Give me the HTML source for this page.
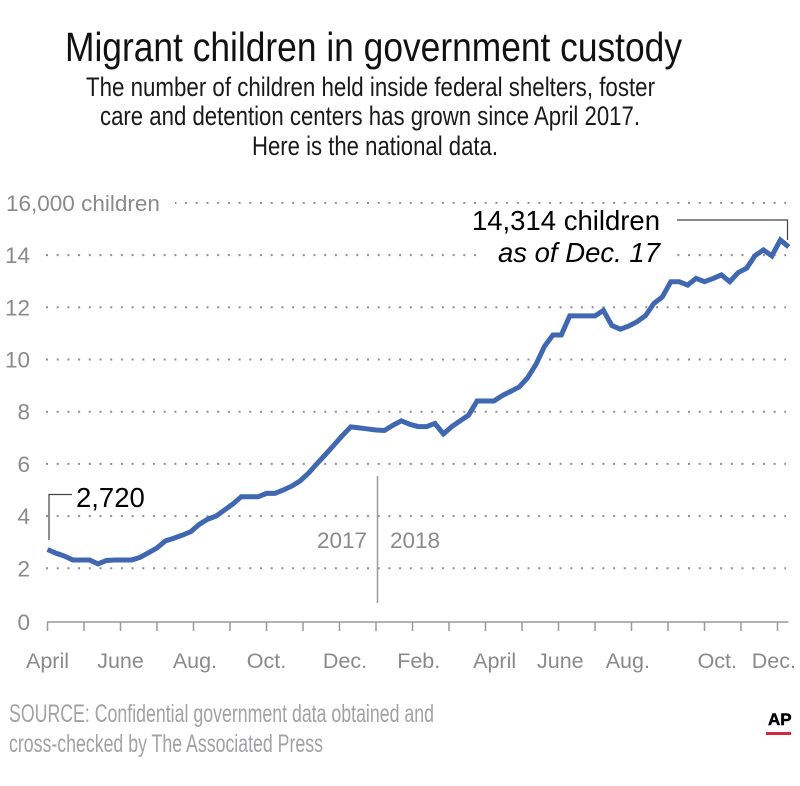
<!DOCTYPE html>
<html lang="en">
<head>
<meta charset="utf-8">
<title>Migrant children in government custody</title>
<style>
  html, body { margin: 0; padding: 0; background: #fff; }
  body { width: 800px; height: 786px; overflow: hidden; }
  svg { display: block; font-family: "Liberation Sans", Arial, sans-serif; }
</style>
</head>
<body>
<svg id="chart" width="800" height="786" viewBox="0 0 800 786" xmlns="http://www.w3.org/2000/svg">
  <rect x="0" y="0" width="800" height="786" fill="#ffffff"/>

  <text x="65" y="61" font-size="41" fill="#111" textLength="617" lengthAdjust="spacingAndGlyphs">Migrant children in government custody</text>
  <text x="86" y="96" font-size="26.5" fill="#1a1a1a" textLength="569" lengthAdjust="spacingAndGlyphs">The number of children held inside federal shelters, foster</text>
  <text x="100" y="125" font-size="26.5" fill="#1a1a1a" textLength="540" lengthAdjust="spacingAndGlyphs">care and detention centers has grown since April 2017.</text>
  <text x="252" y="155" font-size="26.5" fill="#1a1a1a" textLength="246" lengthAdjust="spacingAndGlyphs">Here is the national data.</text>

  <g id="grid"></g>
  <rect x="0" y="190" width="175" height="26" fill="#ffffff"/>
  <rect x="476" y="246" width="200" height="20" fill="#ffffff"/>
  <g id="y-axis"></g>
  <g id="x-axis"></g>

  <line x1="377.5" y1="476" x2="377.5" y2="603" stroke="#999" stroke-width="1.5"/>
  <text x="367" y="548" font-size="22.5" fill="#8a8a8c" text-anchor="end">2017</text>
  <text x="390" y="548" font-size="22.5" fill="#8a8a8c">2018</text>

  <path id="series" fill="none" stroke="#3f68b0" stroke-width="5" stroke-linejoin="miter" stroke-miterlimit="3"/>

  <path d="M49 540 V494.5 H72" fill="none" stroke="#444" stroke-width="1.2"/>
  <text x="76" y="507" font-size="27.5" fill="#000">2,720</text>
  <path d="M677 220 H787.5 V240" fill="none" stroke="#444" stroke-width="1.2"/>
  <text x="660" y="230" font-size="27.5" fill="#000" text-anchor="end">14,314 children</text>
  <text x="660" y="262" font-size="27.5" font-style="italic" fill="#000" text-anchor="end">as of Dec. 17</text>

  <text x="9" y="722" font-size="25" fill="#a2a2a4" textLength="425" lengthAdjust="spacingAndGlyphs">SOURCE: Confidential government data obtained and</text>
  <text x="9" y="752" font-size="25" fill="#a2a2a4" textLength="314" lengthAdjust="spacingAndGlyphs">cross-checked by The Associated Press</text>

  <text x="768" y="725" font-size="17" font-weight="bold" fill="#000" stroke="#000" stroke-width="0.5">AP</text>
  <rect x="766" y="732" width="25" height="3" fill="#d0283f"/>
</svg>

<script>
// Weekly count of children in custody, thousands, starting April 2017
const weeklyValues = [
  2.72, 2.58, 2.47, 2.32, 2.32, 2.32, 2.17, 2.30, 2.32, 2.32,
  2.32, 2.42, 2.60, 2.78, 3.05, 3.15, 3.27, 3.40, 3.68, 3.88,
  4.00, 4.23, 4.46, 4.74, 4.74, 4.74, 4.87, 4.87, 5.00, 5.15,
  5.35, 5.65, 6.01, 6.36, 6.72, 7.08, 7.42, 7.38, 7.34, 7.30,
  7.28, 7.48, 7.65, 7.52, 7.43, 7.43, 7.55, 7.15, 7.43, 7.65,
  7.87, 8.41, 8.41, 8.41, 8.62, 8.78, 8.95, 9.30, 9.82, 10.50,
  10.94, 10.94, 11.67, 11.67, 11.67, 11.67, 11.88, 11.30, 11.16, 11.28,
  11.45, 11.68, 12.15, 12.40, 12.98, 12.98, 12.85, 13.11, 12.98, 13.10,
  13.24, 12.98, 13.33, 13.50, 13.98, 14.20, 13.97, 14.58, 14.314
];
const yTickValues = [0, 2, 4, 6, 8, 10, 12, 14, 16];
const yTickLabels = ['0', '2', '4', '6', '8', '10', '12', '14', '16,000 children'];
const monthTickCount = 21;
const monthLabels = ['April', 'June', 'Aug.', 'Oct.', 'Dec.', 'Feb.', 'April', 'June', 'Aug.', 'Oct.', 'Dec.'];
// Month offset from April 2017 at which each label is centred in the graphic
const monthLabelAt = [0, 2, 4.04, 6, 8.15, 10.17, 12.25, 14.05, 15.9, 18.35, 19.9];

const SVG_NS = 'http://www.w3.org/2000/svg';
const x0 = 47.5;
const monthWidth = 36.5;
const weekWidth = monthWidth * 12 / 52;
const gridRight = 786;
const axisOffset = 1.5;
function xMonth(m) { return x0 + m * monthWidth; }
function xWeek(i) { return x0 + i * weekWidth; }
function yValue(v) { return 620.5 - v * 26.1; }

const gridGroup = document.getElementById('grid');
const yAxisGroup = document.getElementById('y-axis');
const xAxisGroup = document.getElementById('x-axis');
const axisY = yValue(0) + axisOffset;

yTickValues.forEach(function (v, i) {
  if (v !== 0) {
    const grid = document.createElementNS(SVG_NS, 'line');
    
    
    grid.setAttribute('x1', 46);
    grid.setAttribute('x2', gridRight);
    grid.setAttribute('y1', yValue(v));
    grid.setAttribute('y2', yValue(v));
    grid.setAttribute('stroke', '#8f8f8f');
    grid.setAttribute('stroke-width', '2');
    grid.setAttribute('stroke-dasharray', '2 8.7');
    gridGroup.appendChild(grid);
  }
  const label = document.createElementNS(SVG_NS, 'text');
  
  
  const isTop = i === yTickValues.length - 1;
  label.setAttribute('x', isTop ? 6 : 30);
  label.setAttribute('y', (v === 0 ? axisY : yValue(v)) + 8);
  label.setAttribute('font-size', '22.5');
  label.setAttribute('fill', '#8a8a8c');
  label.setAttribute('text-anchor', isTop ? 'start' : 'end');
  label.textContent = yTickLabels[i];
  yAxisGroup.appendChild(label);
});

const axisLine = document.createElementNS(SVG_NS, 'line');


axisLine.setAttribute('x1', x0 - 0.5);
axisLine.setAttribute('x2', 788.5);
axisLine.setAttribute('y1', axisY);
axisLine.setAttribute('y2', axisY);
axisLine.setAttribute('stroke', '#999');
axisLine.setAttribute('stroke-width', '1.5');
xAxisGroup.appendChild(axisLine);

for (let m = 0; m < monthTickCount; m++) {
  const tick = document.createElementNS(SVG_NS, 'line');
  
  
  tick.setAttribute('x1', xMonth(m));
  tick.setAttribute('x2', xMonth(m));
  tick.setAttribute('y1', axisY);
  tick.setAttribute('y2', axisY + 9);
  tick.setAttribute('stroke', '#999');
  tick.setAttribute('stroke-width', '1.5');
  xAxisGroup.appendChild(tick);
}

monthLabels.forEach(function (name, i) {
  const label = document.createElementNS(SVG_NS, 'text');
  
  
  label.setAttribute('x', xMonth(monthLabelAt[i]));
  label.setAttribute('y', 668);
  label.setAttribute('font-size', '21.5');
  label.setAttribute('fill', '#8a8a8c');
  label.setAttribute('text-anchor', 'middle');
  label.textContent = name;
  xAxisGroup.appendChild(label);
});

document.getElementById('series').setAttribute('d', weeklyValues.map(function (v, i) {
  return (i === 0 ? 'M' : 'L') + xWeek(i).toFixed(2) + ' ' + yValue(v).toFixed(2);
}).join(' '));
</script>
</body>
</html>
